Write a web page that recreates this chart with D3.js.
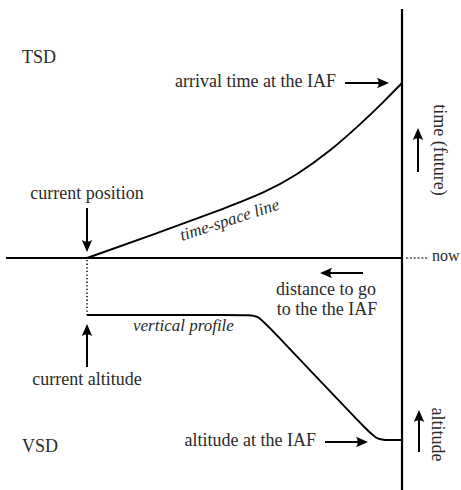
<!DOCTYPE html>
<html>
<head>
<meta charset="utf-8">
<script src="https://cdn.jsdelivr.net/npm/d3@7"></script>
<style>
  html, body { margin: 0; padding: 0; background: #fff; }
  svg { display: block; }
  text { font-family: "Liberation Serif", "Times New Roman", serif; fill: #2a2a2a; }
</style>
</head>
<body>
<svg id="chart" width="461" height="490"></svg>
<script>
// ---- data ----
// time-space line (TSD): distance to go to the IAF (0 = IAF) vs. time (0 = now, 100 = arrival)
const tsdDistToGo = [100, 77, 55, 44, 33.4, 23, 12.3, 6, 0];
const tsdTime     = [0, 14.6, 29.3, 37, 47.4, 60.7, 78, 88.9, 100];
// vertical profile (VSD): B-spline control points, distance to go vs. altitude (100 = current, 0 = IAF)
const vsdDistToGo = [100, 49.8, 45.8, 41.9, 12.1, 8.0, 4.1, 0];
const vsdAltitude = [100, 100, 100, 89.5, 10.5, 0, 0, 0];
// extents of the axes in data units
const distExtent = [125.7, 0];
const timeTop = 142.3;
const altBottom = -40;

const svg = d3.select("#chart");

const x  = d3.scaleLinear().domain([100, 0]).range([87, 402]);
const yT = d3.scaleLinear().domain([0, 100]).range([258, 83]);
const yV = d3.scaleLinear().domain([0, 100]).range([440, 315]);

// arrow with a filled head
function arrow(x1, y1, x2, y2) {
  const a = Math.atan2(y2 - y1, x2 - x1);
  const g = svg.append("g");
  g.append("line").attr("x1", x1).attr("y1", y1)
    .attr("x2", x2 - 6 * Math.cos(a))
    .attr("y2", y2 - 6 * Math.sin(a))
    .attr("stroke", "#000").attr("stroke-width", 2);
  g.append("path")
    .attr("d", "M0,0 L-12,-5.2 Q-8.5,0 -12,5.2 Z")
    .attr("fill", "#000")
    .attr("transform", `translate(${x2},${y2}) rotate(${a * 180 / Math.PI})`);
}

// axes
svg.append("line")
  .attr("x1", x(distExtent[0])).attr("x2", x(distExtent[1]))
  .attr("y1", yT(0)).attr("y2", yT(0))
  .attr("stroke", "#000").attr("stroke-width", 2.2);
svg.append("line")
  .attr("x1", x(0)).attr("x2", x(0))
  .attr("y1", yT(timeTop)).attr("y2", yV(altBottom))
  .attr("stroke", "#000").attr("stroke-width", 2.2);

// "now" dashed tick
svg.append("line")
  .attr("x1", x(0) + 4).attr("x2", x(0) + 27)
  .attr("y1", yT(0)).attr("y2", yT(0))
  .attr("stroke", "#000").attr("stroke-width", 1.1)
  .attr("stroke-dasharray", "2.2,1.6");

// dotted drop line from current position to current altitude
svg.append("line")
  .attr("x1", x(100)).attr("x2", x(100))
  .attr("y1", yT(0) + 2).attr("y2", yV(100))
  .attr("stroke", "#000").attr("stroke-width", 1.5)
  .attr("stroke-dasharray", "1.3,2.3");

// time-space line
const tsLine = d3.line()
  .x((d, i) => x(tsdDistToGo[i]))
  .y((d, i) => yT(tsdTime[i]))
  .curve(d3.curveBasis);
svg.append("path")
  .attr("d", tsLine(tsdTime))
  .attr("fill", "none").attr("stroke", "#000").attr("stroke-width", 1.9);

// vertical profile
const vpLine = d3.line()
  .x((d, i) => x(vsdDistToGo[i]))
  .y((d, i) => yV(vsdAltitude[i]))
  .curve(d3.curveBasis);
svg.append("path")
  .attr("d", vpLine(vsdAltitude))
  .attr("fill", "none").attr("stroke", "#000").attr("stroke-width", 1.9);

// arrows
arrow(x(100), 208, x(100), 252);            // current position
arrow(x(100), 367, x(100), 324);            // current altitude
arrow(345, yT(100), 389, yT(100));          // arrival time
arrow(418, 172, 418, 128);                  // time (future)
arrow(363, 273, 320, 273);                  // distance to go
arrow(325, yV(0) + 2, 368, yV(0) + 2);      // altitude at the IAF
arrow(419, 452, 419, 410);                  // altitude

// texts
function label(t, px, py, anchor, opts = {}) {
  const el = svg.append("text")
    .attr("x", px).attr("y", py)
    .attr("text-anchor", anchor)
    .style("font-size", (opts.size || 18) + "px")
    .text(t);
  if (opts.italic) el.style("font-style", "italic");
  if (opts.rotate !== undefined) el.attr("transform", `rotate(${opts.rotate},${px},${py})`);
  return el;
}
label("TSD", 22, 63, "start");
label("VSD", 22, 452, "start");
label("arrival time at the IAF", 336, 87, "end");
label("current position", x(100), 199, "middle");
label("current altitude", x(100), 385, "middle");
label("distance to go", 326, 295, "middle");
label("to the the IAF", 327, 315, "middle");
label("altitude at the IAF", 316, 446, "end");
label("now", 432, 261, "start", { size: 16 });
label("time (future)", 434, 150, "middle", { rotate: 90 });
label("altitude", 432, 434.5, "middle", { rotate: 90 });
label("vertical profile", 133, 331, "start", { italic: true, size: 17 });
label("time-space line", 182, 241, "start", { italic: true, size: 17, rotate: -18 });
</script>
</body>
</html>
